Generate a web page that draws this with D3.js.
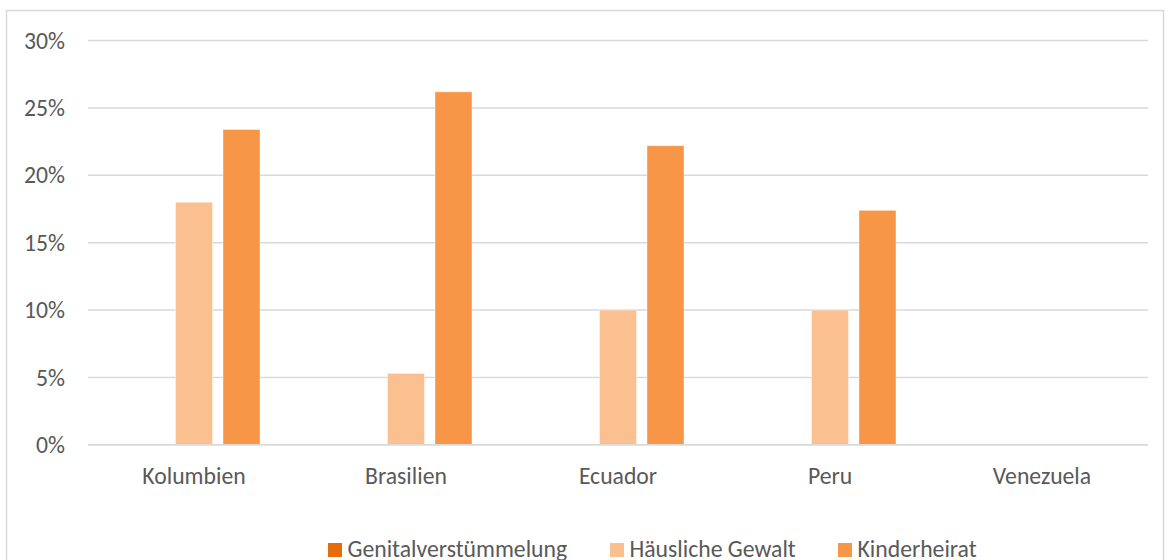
<!DOCTYPE html>
<html><head><meta charset="utf-8">
<script src="https://cdn.jsdelivr.net/npm/d3@7"></script>
<style>body{margin:0;background:#fff}svg{display:block}text{font-family:Carlito,"Open Sans",sans-serif;fill:#595959}</style>
</head><body><svg id="c" width="1170" height="560"></svg>
<script>
const categories = ["Kolumbien","Brasilien","Ecuador","Peru","Venezuela"];
const seriesNames = ["Genitalverstümmelung","Häusliche Gewalt","Kinderheirat"];
const genital = [0,0,0,0,0];
const haeuslich = [0.18,0.053,0.10,0.10,0];
const kinder = [0.234,0.262,0.222,0.174,0];
const yTicks = [0,0.05,0.10,0.15,0.20,0.25,0.30];
const colors = ["#E46C0A","#FAC090","#F79646"];
const seriesValues = [genital, haeuslich, kinder];
const FONT = 'Carlito,"Open Sans",sans-serif';
const FS = 23.7;

const svg = d3.select("#c");
svg.append("rect").attr("x",6.5).attr("y",10.5).attr("width",1157).attr("height",600)
  .attr("fill","#fff").attr("stroke","#D9D9D9").attr("stroke-width",1.5);

const y = d3.scaleLinear().domain([0,0.30]).range([444.8,40.6]);
const x0 = d3.scaleBand().domain(categories).range([88,1148]).padding(0);
const x1 = d3.scaleBand().domain(seriesNames).range([40,172]).paddingInner(0.221).paddingOuter(0);

const grid = svg.append("g");
yTicks.forEach(t=>{
  grid.append("line").attr("x1",88).attr("x2",1148).attr("y1",y(t)).attr("y2",y(t))
    .attr("stroke","#D9D9D9").attr("stroke-width",1.5);
});
const yAxis = d3.axisLeft(y).tickValues(yTicks).tickFormat(d3.format(".0%")).tickSize(0).tickPadding(0);
const ya = svg.append("g").attr("transform","translate(65,0)").call(yAxis);
ya.select(".domain").remove();
ya.selectAll("text").attr("font-size",FS).style("fill","#595959").attr("font-family",FONT);

const g = svg.append("g");
categories.forEach((c,i)=>{
  seriesNames.forEach((s,j)=>{
    const v = seriesValues[j][i];
    if(v>0){
      g.append("rect").attr("x",x0(c)+x1(s)).attr("width",x1.bandwidth())
        .attr("y",y(v)).attr("height",y(0)-y(v)).attr("fill",colors[j])
        .attr("stroke","#fff").attr("stroke-opacity",0.4).attr("stroke-width",1);
    }
  });
});
svg.append("line").attr("x1",88).attr("x2",1148).attr("y1",y(0)).attr("y2",y(0))
  .attr("stroke","#D9D9D9").attr("stroke-width",1.5);

const xAxis = d3.axisBottom(x0).tickSize(0).tickPadding(0);
const xa = svg.append("g").call(xAxis);
xa.select(".domain").remove();
xa.selectAll("text").attr("font-size",FS).attr("y",484).attr("dy",0).style("fill","#595959").attr("font-family",FONT);

const legendX = [328, 610, 838];
const lg = svg.append("g");
seriesNames.forEach((s,j)=>{
  lg.append("rect").attr("x",legendX[j]).attr("y",543).attr("width",14).attr("height",14).attr("fill",colors[j]);
  lg.append("text").attr("x",legendX[j]+19.5).attr("y",557).attr("font-size",FS).text(s);
});
</script></body></html>
